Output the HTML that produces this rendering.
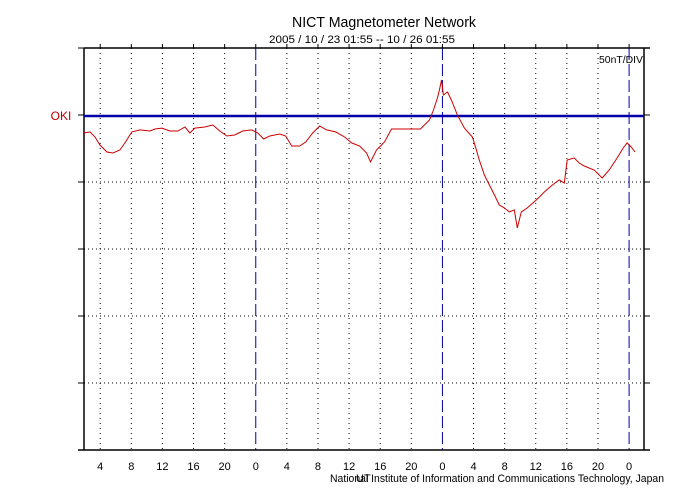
<!DOCTYPE html>
<html><head><meta charset="utf-8"><style>
html,body{margin:0;padding:0;background:#fff;}
svg{display:block;font-family:"Liberation Sans",sans-serif;}
</style></head><body>
<svg id="chart" width="700" height="500" viewBox="0 0 700 500">
<text x="384" y="27" font-size="15" text-anchor="middle" textLength="184" lengthAdjust="spacingAndGlyphs">NICT Magnetometer Network</text>
<text x="362" y="43" font-size="11" text-anchor="middle" textLength="186" lengthAdjust="spacingAndGlyphs">2005 / 10 / 23   01:55 -- 10 / 26   01:55</text>
<text x="643" y="63" font-size="10" text-anchor="end" textLength="44" lengthAdjust="spacingAndGlyphs">50nT/DIV</text>
<text x="61" y="120" font-size="12" fill="#c00000" text-anchor="middle">OKI</text>
<text x="330" y="482" font-size="11" textLength="334" lengthAdjust="spacingAndGlyphs">National Institute of Information and Communications Technology, Japan</text>
<text x="356" y="482" font-size="11">UT</text>
<g id="grid"></g>
<g id="axes"></g>
<path id="trace" fill="none" stroke="#cc0000" stroke-width="1"></path>
</svg>
<script>
const hours=[0,0.77,1.41,2.05,2.95,3.72,4.62,5.26,6.16,7.19,8.47,9.11,10.01,11.04,12.07,12.97,13.61,14.25,15.53,16.56,17.46,18.36,19.38,20.41,21.57,22.34,23.11,23.88,25.16,25.93,26.7,27.73,28.5,29.4,30.3,31.19,32.35,33.5,34.4,35.43,36.33,36.84,37.61,38.64,39.54,40.56,41.85,43.26,43.77,44.42,44.93,45.44,45.7,45.96,46.21,46.73,47.24,48.01,48.91,49.94,50.45,50.83,51.48,52.12,52.76,53.4,54.04,54.69,55.33,55.71,56.23,57,58.15,59.18,60.08,61.1,61.75,62.13,63.03,63.67,64.31,65.6,66.62,67.52,68.55,69.32,69.83,70.35,70.86];
const nT=[-12.7,-11.9,-15.7,-21.6,-26.9,-27.6,-25.4,-20.1,-11.9,-10.4,-11.2,-9.7,-9,-11.2,-11.2,-8.2,-12.7,-9,-8.2,-6.7,-11.2,-14.9,-14.2,-11.2,-10.4,-12.7,-17.2,-14.9,-13.4,-14.9,-22.4,-22.4,-19.4,-12.7,-7.5,-10.4,-11.9,-15.7,-20.1,-22.4,-27.6,-34.3,-25.4,-19.4,-9.7,-9.7,-9.7,-9.7,-6.7,-3,4.5,13.4,19.4,26.9,15.7,17.9,11.9,0.7,-9,-15.7,-25.4,-32.8,-44,-51.5,-58.9,-66.4,-68.6,-71.6,-70.1,-83.6,-71.6,-68.6,-62.7,-56.7,-52.2,-47.7,-50,-32.8,-31.3,-35.1,-37.3,-40.3,-46.3,-40.3,-31.3,-23.9,-20.1,-23.1,-26.9];
const tickLabels=["4","8","12","16","20","0","4","8","12","16","20","0","4","8","12","16","20","0"];
const startHour=1+55/60;
const L=84,R=644,T=48,B=450,base=116,pxPerNT=67/50;
const X=h=>L+h*(R-L)/72;
const Y=v=>base-v*pxPerNT;
const NS="http://www.w3.org/2000/svg";
const grid=document.getElementById('grid'),axes=document.getElementById('axes');
function mk(tag,attrs,parent){const e=document.createElementNS(NS,tag);for(const k in attrs)e.setAttribute(k,attrs[k]);parent.appendChild(e);return e;}
// horizontal grid lines
for(let i=1;i<6;i++){const y=T+i*(B-T)/6;
 if(i===1)continue;
 const g=mk('line',{x1:L,x2:R,y1:y,y2:y,stroke:'#000','stroke-width':1,'stroke-dasharray':'1,3'},grid);
 
 }
for(let i=0;i<=6;i++){const y=T+i*(B-T)/6;
 const t1=mk('line',{x1:L-6,x2:L,y1:y,y2:y,stroke:'#000'},axes);
 
 
 const t2=mk('line',{x1:R,x2:R+6,y1:y,y2:y,stroke:'#000'},axes);
 
 }
// vertical grid + labels
tickLabels.forEach((lab,i)=>{
 const h=(4*(i+1))-startHour;const x=X(h);
 const mid=lab==="0";
 const l=mk('line',{x1:x,x2:x,y1:T,y2:B,stroke:mid?'#0000aa':'#000','stroke-width':1,'stroke-dasharray':mid?'12,4':'1,4'},grid);
 
 
 const tk=mk('line',{x1:x,x2:x,y1:T-4,y2:T,stroke:'#000'},axes);
 
 
 const t=mk('text',{x:x,y:470,'font-size':11,'text-anchor':'middle'},axes);
 t.textContent=lab;
 
 
});
const fr=mk('path',{d:`M${L},${T}H${R+6}M${L-6},${B}H${R+6}M${L},${T}V${B}M${R},${T}V${B}`,stroke:'#000',fill:'none','stroke-width':1.5},axes);


const bl=mk('line',{x1:L,x2:R,y1:base,y2:base,stroke:'#0000aa','stroke-width':2.5},axes);


document.getElementById('trace').setAttribute('d',hours.map((h,i)=>(i?'L':'M')+X(h).toFixed(1)+','+Y(nT[i]).toFixed(1)).join(''));
</script>
</body></html>
